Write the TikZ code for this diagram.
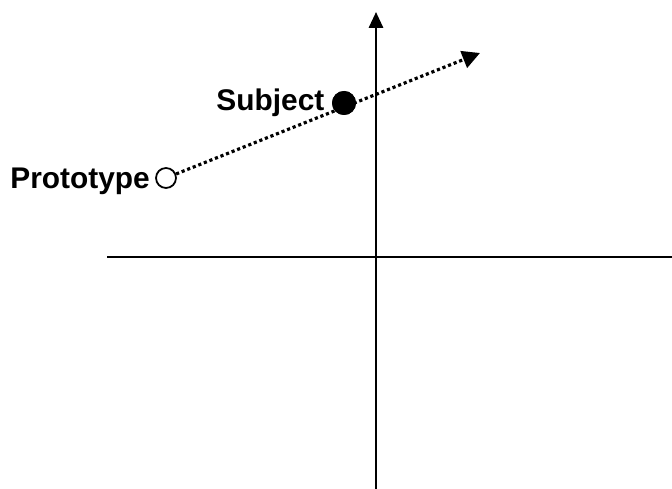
\documentclass[tikz,border=0pt]{standalone}
\usepackage{fontspec}
\setmainfont{Liberation Sans}
\usetikzlibrary{calc}
\usetikzlibrary{arrows.meta}

\begin{document}
\begin{tikzpicture}[x=0.02cm, y=-0.02cm,
    label text/.style={font=\bfseries\fontsize{17}{20}\selectfont, inner sep=0pt},
    dot line/.style={line width=1.8pt, dash pattern=on 1.8pt off 1.6pt}]

    \useasboundingbox (0, 0) rectangle (672, 489);

    % key coordinates
    \coordinate (O) at (376, 257);                  % origin
    \coordinate (X_left) at (107, 257);
    \coordinate (X_right) at (672, 257);
    \coordinate (Y_top) at (376, 12);
    \coordinate (Y_bottom) at (376, 489);
    \coordinate (Tip) at (480, 53);                 % end of the dotted arrow

    % axes
    \draw[line width=1.4pt] (X_left) -- (X_right);
    \draw[line width=1.4pt, -{Triangle[length=9pt, width=8pt]}] (Y_bottom) -- (Y_top);

    % points
    \node[circle, draw, line width=1pt, fill=white, minimum size=0.40cm, inner sep=0pt]
        (proto) at (166, 178) {};
    \node[circle, fill=black, minimum size=0.48cm, inner sep=0pt]
        (subj) at (344, 103) {};

    % dotted arrow from prototype through subject
    \draw[dot line, -{Triangle[length=10pt, width=10pt]}] (proto) -- (Tip);
    \node[circle, fill=black, minimum size=0.48cm, inner sep=0pt] at (subj) {};

    % labels
    \node[label text, anchor=east] (proto_label) at ($(proto.west) + (-5, 3)$) {Prototype};
    \node[label text, anchor=east] (subj_label) at ($(subj.west) + (-7, 0)$) {Subject};

\end{tikzpicture}
\end{document}
